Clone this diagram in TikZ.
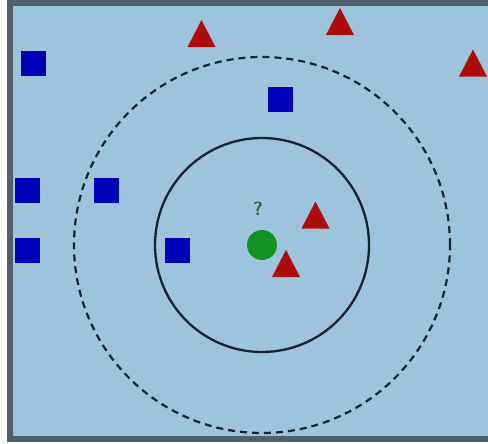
\documentclass[tikz,border=0pt]{standalone}
\usetikzlibrary{shapes.geometric}
\definecolor{bgblue}{RGB}{158,195,220}
\definecolor{framecol}{RGB}{80,95,108}
\definecolor{sqblue}{RGB}{0,0,185}
\definecolor{trired}{RGB}{172,12,12}
\definecolor{dotgreen}{RGB}{20,145,35}
\definecolor{qgreen}{RGB}{30,105,55}
\definecolor{ringcol}{RGB}{25,35,48}
\tikzset{
  sq/.style={rectangle, fill=sqblue, minimum size=25pt, inner sep=0pt},
  tri/.style={isosceles triangle, isosceles triangle stretches, shape border rotate=90,
              minimum width=28pt, minimum height=27pt, inner sep=0pt, fill=trired},
  query/.style={circle, fill=dotgreen, minimum size=30pt, inner sep=0pt},
  ring/.style={draw=ringcol, line width=2.3pt},
  dashring/.style={draw=ringcol, line width=2.2pt, dash pattern=on 7pt off 5pt}
}
\begin{document}
\begin{tikzpicture}[x=1pt,y=-1pt]
\useasboundingbox (0,0) rectangle (488,444);
\fill[white] (0,0) rectangle (488,444);
\fill[bgblue] (10,3) rectangle (488,439);
\draw[framecol, line width=6pt] (10,0) -- (10,442);
\draw[framecol, line width=6pt] (7,3) -- (488,3);
\draw[framecol, line width=6pt] (7,439) -- (488,439);

\coordinate (c) at (262,245);
\draw[dashring] (c) circle[radius=188pt];
\draw[ring] (c) circle[radius=107pt];

\node[sq] (s1) at (33,64) {};
\node[sq] (s2) at (280,100) {};
\node[sq] (s3) at (27,190) {};
\node[sq] (s4) at (106,190) {};
\node[sq] (s5) at (27,250) {};
\node[sq] (s6) at (177,250) {};

\node[tri] (t1) at (201.5,38.5) {};
\node[tri] (t2) at (340,26.5) {};
\node[tri] (t3) at (473,68) {};
\node[tri] (t4) at (315.5,220) {};
\node[tri] (t5) at (286,268.5) {};

\node[query] (q) at (262,245) {};
\node[text=qgreen, font=\sffamily\bfseries\fontsize{19}{19}\selectfont, inner sep=0pt] (ql) at (258,209) {?};
\end{tikzpicture}
\end{document}
